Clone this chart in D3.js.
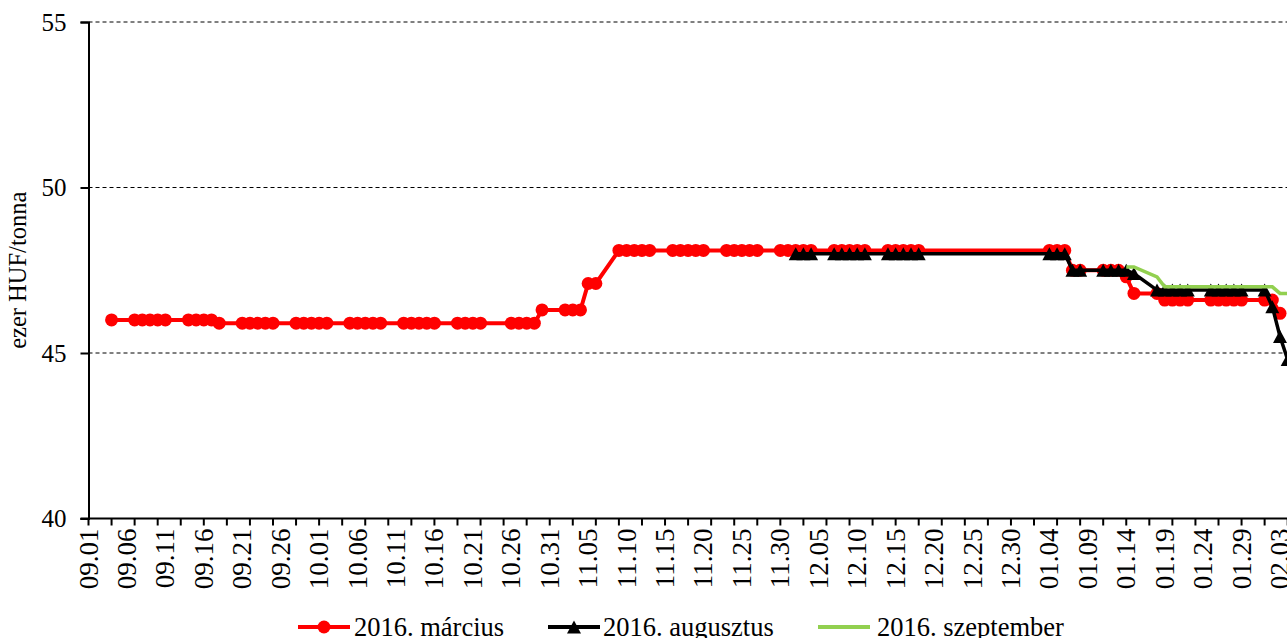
<!DOCTYPE html>
<html>
<head>
<meta charset="utf-8">
<script src="https://cdn.jsdelivr.net/npm/d3@7"></script>
<style>
    body { margin: 0; background: #fff; }
    svg text { font-family: "Liberation Serif", "Times New Roman", serif; fill: #000; }
</style>
</head>
<body>
<div id="chart"></div>
<script>
// 2016. március (red, circles)
const marciusDates = [
    "2015-09-04",
    "2015-09-07","2015-09-08","2015-09-09","2015-09-10","2015-09-11",
    "2015-09-14","2015-09-15","2015-09-16","2015-09-17","2015-09-18",
    "2015-09-21","2015-09-22","2015-09-23","2015-09-24","2015-09-25",
    "2015-09-28","2015-09-29","2015-09-30","2015-10-01","2015-10-02",
    "2015-10-05","2015-10-06","2015-10-07","2015-10-08","2015-10-09",
    "2015-10-12","2015-10-13","2015-10-14","2015-10-15","2015-10-16",
    "2015-10-19","2015-10-20","2015-10-21","2015-10-22",
    "2015-10-26","2015-10-27","2015-10-28","2015-10-29","2015-10-30",
    "2015-11-02","2015-11-03","2015-11-04","2015-11-05","2015-11-06",
    "2015-11-09","2015-11-10","2015-11-11","2015-11-12","2015-11-13",
    "2015-11-16","2015-11-17","2015-11-18","2015-11-19","2015-11-20",
    "2015-11-23","2015-11-24","2015-11-25","2015-11-26","2015-11-27",
    "2015-11-30","2015-12-01","2015-12-02","2015-12-03","2015-12-04",
    "2015-12-07","2015-12-08","2015-12-09","2015-12-10","2015-12-11",
    "2015-12-14","2015-12-15","2015-12-16","2015-12-17","2015-12-18",
    "2016-01-04","2016-01-05","2016-01-06","2016-01-07","2016-01-08",
    "2016-01-11","2016-01-12","2016-01-13","2016-01-14","2016-01-15",
    "2016-01-18","2016-01-19","2016-01-20","2016-01-21","2016-01-22",
    "2016-01-25","2016-01-26","2016-01-27","2016-01-28","2016-01-29",
    "2016-02-01","2016-02-02","2016-02-03"
];
const marciusValues = [
    46.0,
    46.0, 46.0, 46.0, 46.0, 46.0,
    46.0, 46.0, 46.0, 46.0, 45.9,
    45.9, 45.9, 45.9, 45.9, 45.9,
    45.9, 45.9, 45.9, 45.9, 45.9,
    45.9, 45.9, 45.9, 45.9, 45.9,
    45.9, 45.9, 45.9, 45.9, 45.9,
    45.9, 45.9, 45.9, 45.9,
    45.9, 45.9, 45.9, 45.9, 46.3,
    46.3, 46.3, 46.3, 47.1, 47.1,
    48.1, 48.1, 48.1, 48.1, 48.1,
    48.1, 48.1, 48.1, 48.1, 48.1,
    48.1, 48.1, 48.1, 48.1, 48.1,
    48.1, 48.1, 48.1, 48.1, 48.1,
    48.1, 48.1, 48.1, 48.1, 48.1,
    48.1, 48.1, 48.1, 48.1, 48.1,
    48.1, 48.1, 48.1, 47.5, 47.5,
    47.5, 47.5, 47.5, 47.3, 46.8,
    46.8, 46.6, 46.6, 46.6, 46.6,
    46.6, 46.6, 46.6, 46.6, 46.6,
    46.6, 46.6, 46.2
];

// 2016. augusztus (black, triangles)
const augusztusDates = [
    "2015-12-02","2015-12-03","2015-12-04",
    "2015-12-07","2015-12-08","2015-12-09","2015-12-10","2015-12-11",
    "2015-12-14","2015-12-15","2015-12-16","2015-12-17","2015-12-18",
    "2016-01-04","2016-01-05","2016-01-06","2016-01-07","2016-01-08",
    "2016-01-11","2016-01-12","2016-01-13","2016-01-14","2016-01-15",
    "2016-01-18","2016-01-19","2016-01-20","2016-01-21","2016-01-22",
    "2016-01-25","2016-01-26","2016-01-27","2016-01-28","2016-01-29",
    "2016-02-01","2016-02-02","2016-02-03","2016-02-04"
];
const augusztusValues = [
    48.0, 48.0, 48.0,
    48.0, 48.0, 48.0, 48.0, 48.0,
    48.0, 48.0, 48.0, 48.0, 48.0,
    48.0, 48.0, 48.0, 47.5, 47.5,
    47.5, 47.5, 47.5, 47.5, 47.4,
    46.9, 46.9, 46.9, 46.9, 46.9,
    46.9, 46.9, 46.9, 46.9, 46.9,
    46.9, 46.4, 45.5, 44.8
];

// 2016. szeptember (green, no markers)
const szeptemberDates = [
    "2016-01-14","2016-01-15",
    "2016-01-18","2016-01-19","2016-01-20","2016-01-21","2016-01-22",
    "2016-01-25","2016-01-26","2016-01-27","2016-01-28","2016-01-29",
    "2016-02-01","2016-02-02","2016-02-03","2016-02-04"
];
const szeptemberValues = [
    47.6, 47.6,
    47.3, 47.0, 47.0, 47.0, 47.0,
    47.0, 47.0, 47.0, 47.0, 47.0,
    47.0, 47.0, 46.8, 46.8
];

const seriesNames = ["2016. március", "2016. augusztus", "2016. szeptember"];
const yTicks = [40, 45, 50, 55];
const gridValues = [45, 50, 55];
const yLabel = "ezer HUF/tonna";

const width = 1287, height = 638;
const margin = { left: 88.5, top: 22, bottom: 518.5 };
const serif = "'Liberation Serif', 'Times New Roman', serif";

const parse = d3.utcParse("%Y-%m-%d");
const startDate = parse("2015-09-01");
const lastLabelDate = parse("2016-02-03");

const x = d3.scaleUtc().domain([startDate, lastLabelDate]).range([margin.left, 1280]);
const y = d3.scaleLinear().domain([40, 55]).range([margin.bottom, margin.top]);

const svg = d3.select("#chart").append("svg")
    .attr("width", width)
    .attr("height", height)
    .attr("font-family", serif);

// gridlines
svg.append("g").selectAll("line")
    .data(gridValues)
    .join("line")
        .attr("x1", margin.left)
        .attr("x2", width)
        .attr("y1", d => y(d))
        .attr("y2", d => y(d))
        .style("stroke", "#000")
        .style("stroke-width", 1)
        .style("stroke-dasharray", "4,3");

// y axis
const yAxis = svg.append("g")
    .attr("transform", "translate(" + margin.left + ",0)")
    .call(d3.axisLeft(y).tickValues(yTicks).tickSize(8).tickPadding(14).tickFormat(d3.format("d")));
yAxis.attr("font-family", serif);
yAxis.select(".domain").style("stroke-width", 2);
yAxis.selectAll(".tick line").style("stroke-width", 2);
yAxis.selectAll("text").style("font-size", "25px");

svg.append("text")
    .attr("transform", "translate(26," + ((y(45) + y(50)) / 2) + ") rotate(-90)")
    .attr("text-anchor", "middle")
    .style("font-size", "24.5px")
    .text(yLabel);

// x axis: ticks every 3 days, labels every 5 days
const tickDates = d3.range(0, 165, 3).map(n => d3.utcDay.offset(startDate, n));
const labelDates = d3.range(0, 160, 5).map(n => d3.utcDay.offset(startDate, n));
const fmt = d3.utcFormat("%m.%d");

const xAxisG = svg.append("g").attr("transform", "translate(0," + margin.bottom + ")");
xAxisG.append("line")
    .attr("x1", margin.left - 8).attr("x2", width)
    .style("stroke", "#000").style("stroke-width", 2);
xAxisG.selectAll(".xtick")
    .data(tickDates)
    .join("line")
        .attr("class", "xtick")
        .attr("x1", d => x(d)).attr("x2", d => x(d))
        .attr("y1", 0).attr("y2", 7)
        .style("stroke", "#000").style("stroke-width", 2);
xAxisG.selectAll(".xlabel")
    .data(labelDates)
    .join("text")
        .attr("class", "xlabel")
        .attr("transform", d => "translate(" + (x(d) + 9) + ",10) rotate(-90)")
        .attr("text-anchor", "end")
        .style("font-size", "27px")
        .text(d => fmt(d));

const line = d3.line().x(d => x(d.date)).y(d => y(d.value));
const zip = (dates, values) => dates.map((s, i) => ({ date: parse(s), value: values[i] }));

const marcius = zip(marciusDates, marciusValues);
const augusztus = zip(augusztusDates, augusztusValues);
const szeptember = zip(szeptemberDates, szeptemberValues);

const triPath = (w, h) => "M0," + (-h / 2) + "L" + (w / 2) + "," + (h / 2) + "L" + (-w / 2) + "," + (h / 2) + "Z";

const plot = svg.append("g");

// red
plot.append("path").datum(marcius)
    .attr("d", line)
    .style("fill", "none").style("stroke", "#ff0000").style("stroke-width", 4);
plot.selectAll(".mc").data(marcius).join("circle")
    .attr("class", "mc")
    .attr("cx", d => x(d.date)).attr("cy", d => y(d.value)).attr("r", 6.5)
    .style("fill", "#ff0000");

// black
plot.append("path").datum(augusztus)
    .attr("d", line)
    .style("fill", "none").style("stroke", "#000").style("stroke-width", 3.5);
plot.selectAll(".at").data(augusztus).join("path")
    .attr("class", "at")
    .attr("transform", d => "translate(" + x(d.date) + "," + y(d.value) + ")")
    .attr("d", triPath(14, 13))
    .style("fill", "#000");

// green
plot.append("path").datum(szeptember)
    .attr("d", line)
    .style("fill", "none").style("stroke", "#92d050").style("stroke-width", 3.5);

// legend
const legendItems = [
    { name: seriesNames[0], x0: 298, color: "#ff0000", marker: "circle", tx: 354 },
    { name: seriesNames[1], x0: 548, color: "#000", marker: "tri", tx: 603 },
    { name: seriesNames[2], x0: 818, color: "#92d050", marker: null, tx: 877 }
];
const ly = 627;
const lg = svg.append("g");
legendItems.forEach(it => {
    lg.append("line")
        .attr("x1", it.x0).attr("x2", it.x0 + 52)
        .attr("y1", ly).attr("y2", ly)
        .style("stroke", it.color).style("stroke-width", 4);
    if (it.marker === "circle") {
        lg.append("circle").attr("cx", it.x0 + 26).attr("cy", ly).attr("r", 6.5).style("fill", it.color);
    } else if (it.marker === "tri") {
        lg.append("path").attr("transform", "translate(" + (it.x0 + 26) + "," + ly + ")")
            .attr("d", triPath(14, 13)).style("fill", it.color);
    }
    lg.append("text")
        .attr("x", it.tx).attr("y", ly + 9)
        .style("font-size", "26.5px")
        .text(it.name);
});
</script>
</body>
</html>
